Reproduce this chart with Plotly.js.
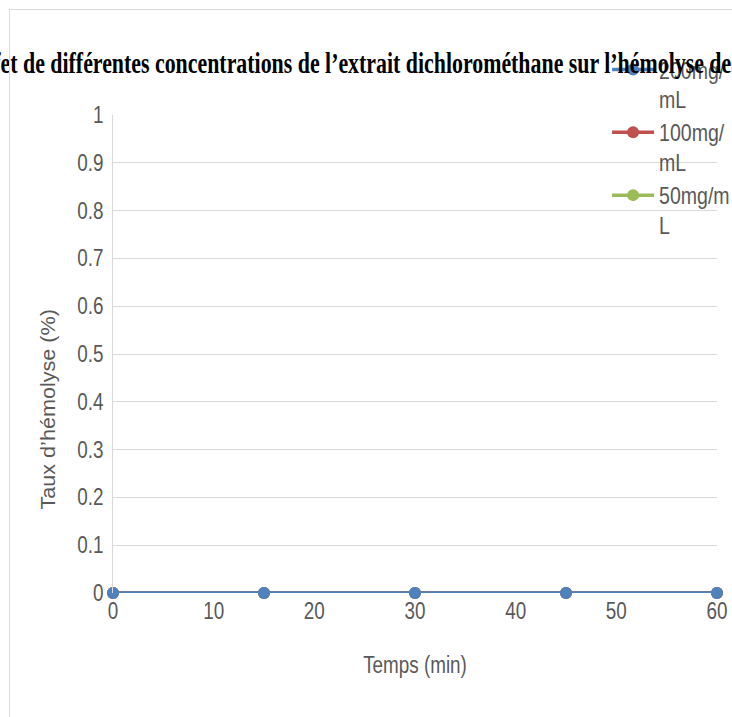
<!DOCTYPE html>
<html>
<head>
<meta charset="utf-8">
<script src="https://cdn.plot.ly/plotly-3.0.1.min.js"></script>
<style>
html,body{margin:0;padding:0;background:#fff;overflow:hidden;}
#chart{width:732px;height:717px;position:absolute;left:0;top:0;}
#frame{position:absolute;left:9px;top:9px;width:800px;height:800px;border:1px solid #d9d9d9;pointer-events:none;}
</style>
</head>
<body>
<div id="chart"></div>
<div id="frame"></div>
<script>
const times = [0, 15, 30, 45, 60];
const seriesNames = ['200mg/<br>mL', '100mg/<br>mL', '50mg/m<br>L'];
const hemo200 = [0, 0, 0, 0, 0];
const hemo100 = [0, 0, 0, 0, 0];
const hemo50 = [0, 0, 0, 0, 0];
const colors = ['#4f81bd', '#c0504d', '#9bbb59'];
const titleText = "Effet de différentes concentrations de l’extrait dichlorométhane sur l’hémolyse des";
const xTitle = 'Temps (min)';
const yTitle = 'Taux d’hémolyse (%)';

const sansFam = '"Liberation Sans", Arial, sans-serif';
const tickFont = {family: sansFam, size: 23, color: '#595959'};

function tr(y, i) {
  return {
    x: times, y: y, name: seriesNames[i], type: 'scatter', mode: 'lines+markers',
    line: {color: colors[i], width: 3.5}, marker: {color: colors[i], size: 12},
    cliponaxis: false
  };
}
const data = [tr(hemo50, 2), tr(hemo100, 1), tr(hemo200, 0)];

const layout = {
  width: 732, height: 717,
  paper_bgcolor: 'rgba(0,0,0,0)', plot_bgcolor: 'rgba(0,0,0,0)',
  margin: {l: 113, r: 15, t: 115, b: 124, autoexpand: false},
  title: {text: titleText, x: 0.4857, xanchor: 'center', y: 0.913, yanchor: 'middle', xref: 'container', yref: 'container',
    font: {family: '"Liberation Serif", "Times New Roman", serif', size: 30, color: '#000', weight: 'bold'},
    automargin: false},
  xaxis: {range: [0, 60], dtick: 10, tick0: 0, showgrid: false, zeroline: false, showline: false,
    ticks: '', tickfont: tickFont, ticklabelstandoff: 2, automargin: false,
    title: {text: xTitle, font: tickFont, standoff: 33}},
  yaxis: {range: [0, 1], dtick: 0.1, tick0: 0, showgrid: true, gridcolor: '#d9d9d9', gridwidth: 1,
    zeroline: false, showline: true, linecolor: '#d9d9d9', linewidth: 1, ticks: '', tickfont: tickFont,
    ticklabelstandoff: 4, automargin: false},
  legend: {x: 0.818, xanchor: 'left', y: 1.14, yanchor: 'top', traceorder: 'reversed', valign: 'top',
    itemwidth: 42, font: tickFont, bgcolor: 'rgba(0,0,0,0)', tracegroupgap: 0},
  showlegend: true,
  annotations: [{text: yTitle, xref: 'paper', yref: 'paper', x: -0.108, y: 0.385, xanchor: 'center', yanchor: 'middle',
    textangle: -90, showarrow: false, font: {family: sansFam, size: 21, color: '#595959'}}]
};

function squeeze(sel, s) {
  document.querySelectorAll(sel).forEach(function (t) {
    const x = parseFloat(t.getAttribute('x') || 0);
    const y = parseFloat(t.getAttribute('y') || 0);
    const prev = t.getAttribute('transform') || '';
    t.setAttribute('transform', prev + ' translate(' + x + ',' + y + ') scale(' + s + ',1) translate(' + (-x) + ',' + (-y) + ')');
  });
}

Plotly.newPlot('chart', data, layout, {displayModeBar: false, staticPlot: true}).then(function () {
  squeeze('#chart .gtitle', 0.729);
  squeeze('#chart .xtick text, #chart .ytick text', 0.82);
  squeeze('#chart .xtitle', 0.82);
  squeeze('#chart .legendtext', 0.85);
  squeeze('#chart .annotation-text', 1.03);
});
</script>
</body>
</html>
